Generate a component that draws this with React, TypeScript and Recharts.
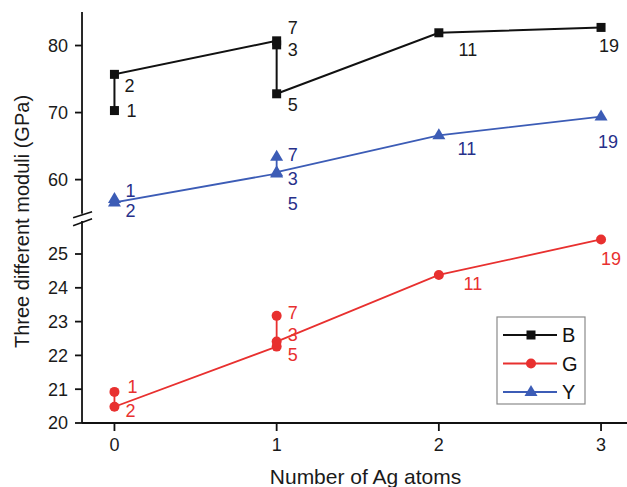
import React from 'react';
import { LineChart, Line, XAxis, YAxis, ReferenceLine, LabelList, Label } from 'recharts';

// x = number of Ag atoms, values in GPa, tags = structure index shown next to each point
const bX = [0, 0, 1, 1, 1, 2, 3];
const bVal = [70.3, 75.7, 80.7, 80.1, 72.8, 81.9, 82.7];
const bTag = ['1', '2', '7', '3', '5', '11', '19'];

const gX = [0, 0, 1, 1, 1, 2, 3];
const gVal = [20.92, 20.48, 22.26, 23.17, 22.41, 24.38, 25.43];
const gTag = ['1', '2', '5', '7', '3', '11', '19'];

const yX = [0, 0, 1, 1, 1, 2, 3];
const yVal = [57.1, 56.6, 60.9, 63.4, 61.1, 66.6, 69.4];
const yTag = ['1', '2', '5', '7', '3', '11', '19'];

const xTicks = [0, 1, 2, 3];
const upperTicks = [60, 70, 80];
const lowerTicks = [20, 21, 22, 23, 24, 25];
const seriesNames = ['B', 'G', 'Y'];

// label offsets (px) for each tag, same order as the data
const bLabelPos = [[17, 0], [15, 12], [16, -13], [16, 5], [16, 11], [29, 17], [8, 19]];
const gLabelPos = [[18, -5], [16, 4], [16, 8], [16, -3], [16, -7], [34, 9], [10, 20]];
const yLabelPos = [[16, -8], [16, 9], [16, 30], [16, -2], [16, 7], [28, 14], [7, 25]];

const BLACK = '#111111';
const RED = '#e8302f';
const BLUE = '#3c5cb6';
const NAVY = '#27308a';
const FONT = '"Liberation Sans", Arial, Helvetica, sans-serif';

const X_DOMAIN: [number, number] = [-0.2, 3.16];

const toRows = (xs: number[], vals: number[], tags: string[]) =>
  xs.map((x, i) => ({ x, v: vals[i], tag: tags[i] }));

const bData = toRows(bX, bVal, bTag);
const gData = toRows(gX, gVal, gTag);
const yData = toRows(yX, yVal, yTag);

const SquareDot = (props: any) => {
  const { cx, cy } = props;
  if (cx == null || cy == null) return null;
  return <rect x={cx - 4.5} y={cy - 4.5} width={9} height={9} fill={BLACK} />;
};

const CircleDot = (props: any) => {
  const { cx, cy } = props;
  if (cx == null || cy == null) return null;
  return <circle cx={cx} cy={cy} r={5} fill={RED} />;
};

const TriangleDot = (props: any) => {
  const { cx, cy } = props;
  if (cx == null || cy == null) return null;
  return <path d={`M${cx},${cy - 7} L${cx + 6.5},${cy + 4} L${cx - 6.5},${cy + 4} Z`} fill={BLUE} />;
};

const tagLabel = (pos: number[][], color: string) => (props: any) => {
  const { x, y, value, index } = props;
  const [dx, dy] = pos[index] || [16, 0];
  return (
    <text
      x={x + dx}
      y={y + dy}
      textAnchor="middle"
      dominantBaseline="central"
      fontSize={18}
      fontFamily={FONT}
      fill={color}
    >
      {value}
    </text>
  );
};

const legendMarks: Record<string, { color: string; mark: (cx: number, cy: number) => React.ReactNode }> = {
  B: { color: BLACK, mark: (cx, cy) => <rect x={cx - 4.5} y={cy - 4.5} width={9} height={9} fill={BLACK} /> },
  G: { color: RED, mark: (cx, cy) => <circle cx={cx} cy={cy} r={5} fill={RED} /> },
  Y: {
    color: BLUE,
    mark: (cx, cy) => <path d={`M${cx},${cy - 7} L${cx + 6.5},${cy + 4} L${cx - 6.5},${cy + 4} Z`} fill={BLUE} />,
  },
};

function LegendBox() {
  return (
    <svg
      width={90}
      height={89}
      style={{ position: 'absolute', left: 496, top: 316 }}
    >
      <rect x={1} y={1} width={88} height={87} fill="#ffffff" stroke="#8a8a8a" strokeWidth={1.2} />
      {seriesNames.map((name, i) => {
        const cy = 19 + i * 28.5;
        const m = legendMarks[name];
        return (
          <g key={name}>
            <line x1={7} x2={61} y1={cy} y2={cy} stroke={m.color} strokeWidth={1.8} />
            {m.mark(35, cy)}
            <text x={66} y={cy} dominantBaseline="central" fontSize={20} fontFamily={FONT} fill="#111">
              {name}
            </text>
          </g>
        );
      })}
    </svg>
  );
}

export default function App() {
  const tickStyle = { fill: '#1a1a1a', fontSize: 18, fontFamily: FONT };
  return (
    <div style={{ position: 'absolute', left: 0, top: 0, width: 627, height: 487, background: '#fff' }}>
      <LineChart width={627} height={487} margin={{ top: 12, right: 0, bottom: 0, left: 0 }}>
        <XAxis
          dataKey="x"
          type="number"
          domain={X_DOMAIN}
          ticks={xTicks}
          allowDataOverflow
          height={64}
          tick={tickStyle}
          tickSize={8}
          tickMargin={7}
          stroke={BLACK}
          strokeWidth={1.8}
        >
          <Label
            content={(p: any) => {
              const vb = p.viewBox;
              return (
                <text
                  x={vb.x + vb.width / 2 + 11}
                  y={vb.y + 53}
                  textAnchor="middle"
                  dominantBaseline="central"
                  fontSize={21}
                  fontFamily={FONT}
                  fill="#1a1a1a"
                >
                  Number of Ag atoms
                </text>
              );
            }}
          />
        </XAxis>
        <XAxis
          xAxisId="top"
          orientation="top"
          type="number"
          domain={X_DOMAIN}
          allowDataOverflow
          height={0}
          tick={false}
          tickLine={false}
          stroke={BLACK}
          strokeWidth={1.8}
        />
        <YAxis
          yAxisId="upper"
          type="number"
          domain={[23.7, 85]}
          ticks={upperTicks}
          allowDataOverflow
          width={82}
          axisLine={false}
          tick={tickStyle}
          tickSize={7}
          tickMargin={7}
          stroke={BLACK}
          strokeWidth={1.8}
        >
          <Label
            content={(p: any) => {
              const vb = p.viewBox;
              const cx = 22;
              const cy = vb.y + vb.height / 2 + 4;
              return (
                <text
                  x={cx}
                  y={cy}
                  transform={`rotate(-90 ${cx} ${cy})`}
                  textAnchor="middle"
                  dominantBaseline="central"
                  fontSize={20}
                  fontFamily={FONT}
                  fill="#1a1a1a"
                >
                  Three different moduli (GPa)
                </text>
              );
            }}
          />
        </YAxis>
        <YAxis
          yAxisId="lower"
          type="number"
          domain={[20, 32.16]}
          ticks={lowerTicks}
          allowDataOverflow
          width={0.01}
          axisLine={false}
          tick={tickStyle}
          tickSize={7}
          tickMargin={7}
          stroke={BLACK}
          strokeWidth={1.8}
        />

        {/* broken left axis */}
        <ReferenceLine
          yAxisId="upper"
          segment={[{ x: -0.2, y: 54.9 }, { x: -0.2, y: 85 }]}
          stroke={BLACK}
          strokeWidth={1.8}
          ifOverflow="visible"
        />
        <ReferenceLine
          yAxisId="lower"
          segment={[{ x: -0.2, y: 20 }, { x: -0.2, y: 25.98 }]}
          stroke={BLACK}
          strokeWidth={1.8}
          ifOverflow="visible"
        />
        <ReferenceLine
          yAxisId="upper"
          segment={[{ x: -0.255, y: 54.32 }, { x: -0.138, y: 55.22 }]}
          stroke={BLACK}
          strokeWidth={1.6}
          ifOverflow="visible"
        />
        <ReferenceLine
          yAxisId="upper"
          segment={[{ x: -0.255, y: 53.13 }, { x: -0.138, y: 54.17 }]}
          stroke={BLACK}
          strokeWidth={1.6}
          ifOverflow="visible"
        />

        <Line
          yAxisId="upper"
          data={bData}
          dataKey="v"
          stroke={BLACK}
          strokeWidth={2}
          dot={<SquareDot />}
          activeDot={false}
          isAnimationActive={false}
        >
          <LabelList dataKey="tag" content={tagLabel(bLabelPos, '#1a1a1a')} />
        </Line>
        <Line
          yAxisId="upper"
          data={yData}
          dataKey="v"
          stroke={BLUE}
          strokeWidth={1.8}
          dot={<TriangleDot />}
          activeDot={false}
          isAnimationActive={false}
        >
          <LabelList dataKey="tag" content={tagLabel(yLabelPos, NAVY)} />
        </Line>
        <Line
          yAxisId="lower"
          data={gData}
          dataKey="v"
          stroke={RED}
          strokeWidth={1.8}
          dot={<CircleDot />}
          activeDot={false}
          isAnimationActive={false}
        >
          <LabelList dataKey="tag" content={tagLabel(gLabelPos, RED)} />
        </Line>
      </LineChart>
      <LegendBox />
    </div>
  );
}
